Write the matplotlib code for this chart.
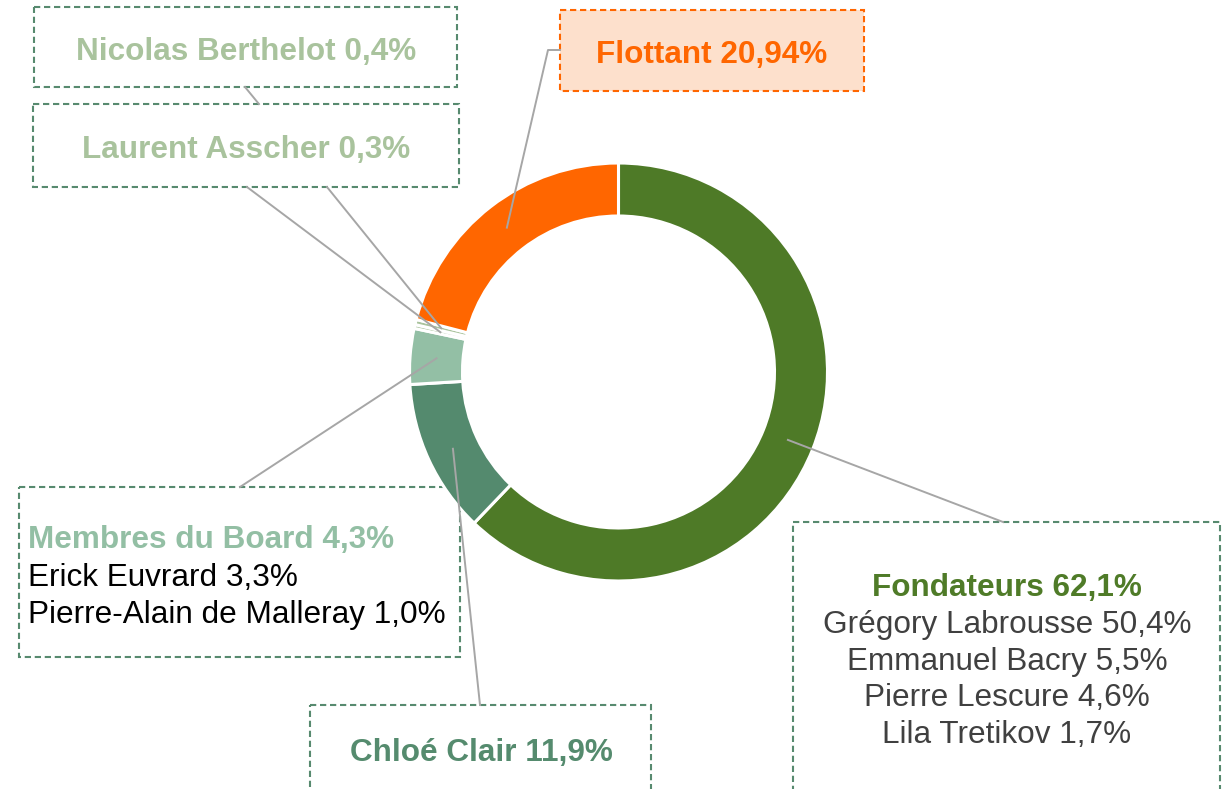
import numpy as np
import matplotlib
matplotlib.use("Agg")
import matplotlib.pyplot as plt
from matplotlib.patches import Rectangle

plt.rcParams["font.family"] = ["Liberation Sans", "DejaVu Sans"]

# shareholding split (percent)
groups = ["Fondateurs", "Chloé Clair", "Membres du Board", "Laurent Asscher", "Nicolas Berthelot", "Flottant"]
shares = [62.1, 11.9, 4.3, 0.3, 0.4, 20.94]
decimals = [1, 1, 1, 1, 1, 2]
slice_colors = ["#4E7A27", "#548A6E", "#93BFA5", "#A9C39D", "#A9C39D", "#FF6600"]
text_colors = ["#4F7B28", "#558B6E", "#93BFA4", "#A9C39D", "#A9C39D", "#FF6600"]

founders = ["Grégory Labrousse", "Emmanuel Bacry", "Pierre Lescure", "Lila Tretikov"]
founders_shares = [50.4, 5.5, 4.6, 1.7]
board = ["Erick Euvrard", "Pierre-Alain de Malleray"]
board_shares = [3.3, 1.0]


def pct(v, d=1):
    return f"{v:.{d}f}".replace(".", ",") + "%"


W, H = 1225, 789
fig = plt.figure(figsize=(W / 100, H / 100), dpi=100)
ax = fig.add_axes([0, 0, 1, 1])

cx, cy = 618.5, 372
r_out, r_in = 209, 156
# y axis is flipped below, so angles run the other way in data space
wedges, _ = ax.pie(shares, colors=slice_colors, startangle=-90, counterclock=True,
                   center=(cx, cy), radius=r_out,
                   wedgeprops=dict(width=r_out - r_in, edgecolor="white", linewidth=2.2, zorder=2))
ax.set_xlim(0, W)
ax.set_ylim(H, 0)
ax.set_aspect("auto")
ax.axis("off")


def anchor(i):
    w = wedges[i]
    t = np.deg2rad((w.theta1 + w.theta2) / 2)
    rm = (r_out + r_in) / 2
    return cx + rm * np.cos(t), cy + rm * np.sin(t)


line_kw = dict(color="#A6A6A6", lw=1.4, zorder=5)
box_kw = dict(linestyle=(0, (3, 1.8)), lw=1.5, zorder=1)
fs = 22.7
dy = 3  # nudge text down a bit (va=center counts descenders)

# leader lines: anchor in the ring -> box edge
ends = {0: [(1003, 522)], 1: [(480, 705)], 2: [(240, 487)],
        3: [(247, 187)], 4: [(327, 187)], 5: [(548, 50), (560, 50)]}
for i, pts in ends.items():
    ax0, ay0 = anchor(i)
    xs = [ax0] + [p[0] for p in pts]
    ys = [ay0] + [p[1] for p in pts]
    ax.plot(xs, ys, **line_kw)

# Nicolas's line runs on behind the Laurent box and shows again above it
(x1, y1), (x2, y2) = (327, 187), (245, 87)
xt = x1 + (x2 - x1) * (187 - 104) / (y1 - y2)
ax.plot([xt, x2], [104, y2], **line_kw)


def box(x0, y0, x1, y1, fc="white", ec="#578A6F"):
    ax.add_patch(Rectangle((x0, y0), x1 - x0, y1 - y0, facecolor=fc, edgecolor=ec, **box_kw))


def label(x, y, s, color, bold=True, ha="center"):
    ax.text(x, y + dy, s, ha=ha, va="center", fontsize=fs,
            fontweight="bold" if bold else "normal", color=color, zorder=7)


# Nicolas Berthelot
box(34, 7, 457, 87)
label(246, 49, f"{groups[4]} {pct(shares[4])}", text_colors[4])

# Laurent Asscher
box(33, 104, 459, 187)
label(246, 147, f"{groups[3]} {pct(shares[3])}", text_colors[3])

# Flottant
box(560, 10, 864, 91, fc="#FDE0CC", ec="#FF6600")
label(712, 52, f"{groups[5]} {pct(shares[5], decimals[5])}", text_colors[5])

# Membres du Board
box(19, 487, 460, 657)
label(28, 537, f"{groups[2]} {pct(shares[2])}", text_colors[2], ha="left")
for k, (name, v) in enumerate(zip(board, board_shares)):
    label(28, 575 + 37 * k, f"{name} {pct(v)}", "black", bold=False, ha="left")

# Chloé Clair
box(310, 705, 651, 800)
label(481, 750, f"{groups[1]} {pct(shares[1])}", text_colors[1])

# Fondateurs
box(793, 522, 1220, 800)
label(1007, 585, f"{groups[0]} {pct(shares[0])}", text_colors[0])
for k, (name, v) in enumerate(zip(founders, founders_shares)):
    label(1007, 622 + 36.7 * k, f"{name} {pct(v)}", "#404040", bold=False)

fig.savefig("out.png", dpi=100)
